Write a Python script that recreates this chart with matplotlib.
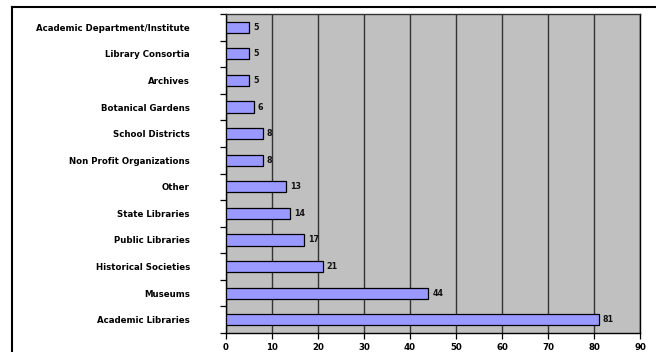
import matplotlib
matplotlib.use("Agg")
import matplotlib.pyplot as plt
from matplotlib.lines import Line2D
import numpy as np

categories = [
    "Academic Libraries",
    "Museums",
    "Historical Societies",
    "Public Libraries",
    "State Libraries",
    "Other",
    "Non Profit Organizations",
    "School Districts",
    "Botanical Gardens",
    "Archives",
    "Library Consortia",
    "Academic Department/Institute",
]
counts = [81, 44, 21, 17, 14, 13, 8, 8, 6, 5, 5, 5]
x_ticks = [0, 10, 20, 30, 40, 50, 60, 70, 80, 90]

plt.rcParams["font.family"] = ["DejaVu Sans"]

fig = plt.figure(figsize=(6.56, 3.52), dpi=100)
fig.patch.set_facecolor("white")
ax = fig.add_axes([226 / 656, 1 - 333 / 352, 414 / 656, 319 / 352])
ax.set_facecolor("#C0C0C0")

y = np.arange(len(categories))
ax.barh(y, counts, height=0.42, color="#9999FF", edgecolor="black",
        linewidth=0.9, zorder=3)

for yi, v in zip(y, counts):
    ax.text(v + 0.9, yi, str(v), va="center", ha="left",
            fontsize=5.8, fontweight="bold", color="#111111", zorder=4)

ax.set_xlim(0, 90)
ax.set_ylim(-0.5, len(categories) - 0.5)

ax.set_xticks(x_ticks)
ax.set_xticklabels([str(t) for t in x_ticks], fontsize=6.2, fontweight="bold")
ax.tick_params(axis="x", direction="out", length=4, width=0.9, pad=3)
ax.xaxis.grid(True, color="#333333", linewidth=1.0, zorder=1)
ax.set_axisbelow(True)

# category boundaries carry the tick marks; names sit at bar centres
ax.set_yticks(np.arange(-0.5, len(categories), 1.0))
ax.set_yticklabels([])
ax.tick_params(axis="y", which="major", direction="out", length=4, width=0.9)
ax.set_yticks(y, minor=True)
ax.set_yticklabels(categories, minor=True, fontsize=6.2, fontweight="bold")
ax.tick_params(axis="y", which="minor", length=0, pad=26)

for side in ["left", "right", "bottom"]:
    ax.spines[side].set_color("black")
    ax.spines[side].set_linewidth(1.0)
ax.spines["top"].set_color("#333333")
ax.spines["top"].set_linewidth(1.0)

# outer chart frame
fig.add_artist(Line2D([12 / 656, 12 / 656], [0, 1 - 7 / 352],
                      transform=fig.transFigure, color="black", linewidth=1.5))
fig.add_artist(Line2D([12 / 656, 1], [1 - 7 / 352, 1 - 7 / 352],
                      transform=fig.transFigure, color="black", linewidth=1.5))

fig.savefig("out.png", dpi=100, facecolor="white")
